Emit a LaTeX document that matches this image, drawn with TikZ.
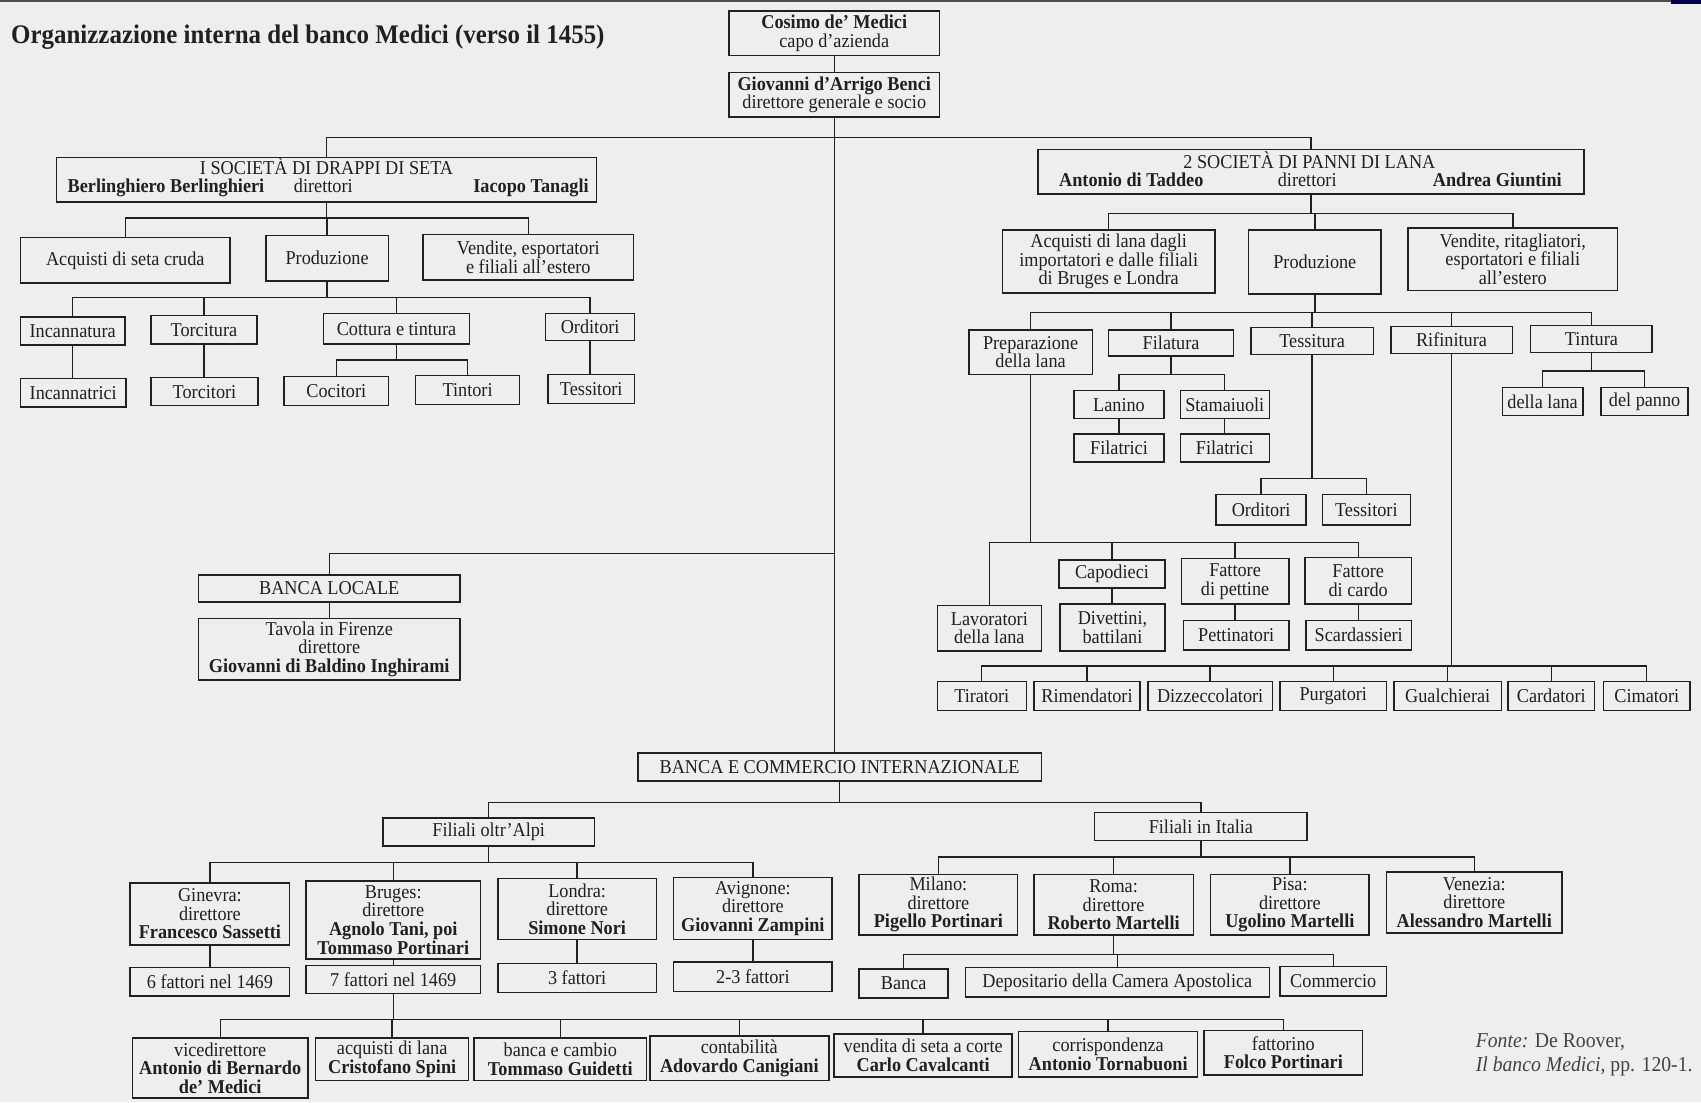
\documentclass[tikz,border=0pt]{standalone}
\usepackage{fontspec}
\setmainfont{Liberation Serif}[FakeStretch=0.93]
\definecolor{bg}{RGB}{238,238,238}
\definecolor{ink}{RGB}{32,32,32}
\tikzset{
  box/.style={draw=ink, line width=0.75pt, inner sep=0pt, align=center, text=ink, font=\fontsize{9.8}{9.3}\selectfont},
  txt/.style={inner sep=0pt, text=ink, font=\fontsize{9.8}{9.3}\selectfont},
  conn/.style={draw=ink, line width=0.7pt}
}
\newcommand\bx[6]{\node[box, minimum width={(#4-#2)*0.5424pt}, minimum height={(#5-#3)*0.5424pt}] (#1) at ({(#2+#4)/2},{(#3+#5)/2}) {#6};}
\newcommand\fanII[4]{%
  \draw[conn] (#1.south) -- (#1.south |- 0,#2);
  \draw[conn] (#3.north) -- (#3.north |- 0,#2) -- (#4.north |- 0,#2) -- (#4.north);}
\newcommand\fan[5]{%
  \fanII{#1}{#2}{#3}{#4}%
  \foreach \c in {#5}{\draw[conn] (\c.north) -- (\c.north |- 0,#2);}}
\newcommand\vl[2]{\draw[conn] (#1.south) -- (#1.south |- #2.north);}
\begin{document}
\begin{tikzpicture}[x=0.5424pt,y=-0.5424pt]
\fill[bg] (0,0) rectangle (1568,1016);
\useasboundingbox (0,0) rectangle (1568,1016);
\draw[ink!80, line width=1.2pt] (0,1) -- (1540,1);
\fill[black!70!blue] (1540,0) rectangle (1568,4);

\node[anchor=base west, inner sep=0pt, text=ink, font=\fontsize{13.4}{15}\selectfont\bfseries] (title) at (10,40) {Organizzazione interna del banco Medici (verso il 1455)};

% top
\bx{cosimo}{672}{10}{866}{51}{\textbf{Cosimo de' Medici}\\capo d'azienda}
\bx{benci}{672}{67}{866}{108}{\textbf{Giovanni d'Arrigo Benci}\\direttore generale e socio}

% silk
\bx{seta}{52}{145}{550}{186}{}
\node[txt, anchor=base] (setaT) at (301,161) {I SOCIETÀ DI DRAPPI DI SETA};
\node[txt, anchor=base west] (setaA) at (62,177) {\textbf{Berlinghiero Berlinghieri}};
\node[txt, anchor=base] (setaD) at (298,177) {direttori};
\node[txt, anchor=base east] (setaB) at (543,177) {\textbf{Iacopo Tanagli}};
\bx{acqseta}{19}{219}{212}{261}{Acquisti di seta cruda}
\bx{prodseta}{245}{217}{358}{259}{Produzione}
\bx{vendseta}{390}{216}{584}{258}{Vendite, esportatori\\e filiali all'estero}
\bx{incannatura}{19}{292}{115}{318}{Incannatura}
\bx{torcitura}{139}{291}{237}{317}{Torcitura}
\bx{cottura}{298}{289}{433}{317}{Cottura e tintura}
\bx{orditoriA}{503}{289}{585}{314}{Orditori}
\bx{incannatrici}{19}{349}{116}{375}{Incannatrici}
\bx{torcitori}{139}{348}{238}{374}{Torcitori}
\bx{cocitori}{262}{347}{358}{374}{Cocitori}
\bx{tintori}{383}{346}{479}{373}{Tintori}
\bx{tessitoriA}{505}{345}{585}{372}{Tessitori}

% wool
\bx{lana}{957}{138}{1460}{179}{}
\node[txt, anchor=base] (lanaT) at (1207,155) {2 SOCIETÀ DI PANNI DI LANA};
\node[txt, anchor=base west] (lanaA) at (976,172) {\textbf{Antonio di Taddeo}};
\node[txt, anchor=base] (lanaD) at (1205,172) {direttori};
\node[txt, anchor=base east] (lanaB) at (1440,172) {\textbf{Andrea Giuntini}};
\bx{acqlana}{924}{212}{1120}{270}{Acquisti di lana dagli\\importatori e dalle filiali\\di Bruges e Londra}
\bx{prodlana}{1151}{212}{1273}{271}{Produzione}
\bx{vendlana}{1298}{210}{1491}{268}{Vendite, ritagliatori,\\esportatori e filiali\\all'estero}
\bx{prep}{893}{304}{1007}{345}{Preparazione\\della lana}
\bx{filatura}{1022}{304}{1137}{328}{Filatura}
\bx{tessitura}{1153}{302}{1266}{327}{Tessitura}
\bx{rifinitura}{1282}{301}{1394}{326}{Rifinitura}
\bx{tintura}{1411}{300}{1523}{325}{Tintura}
\bx{lanino}{990}{360}{1073}{386}{Lanino}
\bx{stamaiuoli}{1088}{360}{1170}{386}{Stamaiuoli}
\bx{filatriciA}{990}{400}{1073}{426}{Filatrici}
\bx{filatriciB}{1088}{400}{1170}{426}{Filatrici}
\bx{dellalana}{1385}{357}{1459}{383}{della lana}
\bx{delpanno}{1476}{357}{1556}{383}{del panno}
\bx{orditoriB}{1121}{456}{1204}{484}{Orditori}
\bx{tessitoriB}{1219}{456}{1300}{484}{Tessitori}
\bx{capodieci}{976}{516}{1074}{542}{Capodieci}
\bx{fpettine}{1089}{515}{1188}{557}{Fattore\\di pettine}
\bx{fcardo}{1203}{514}{1301}{557}{Fattore\\di cardo}
\bx{lavoratori}{864}{558}{960}{600}{Lavoratori\\della lana}
\bx{divettini}{977}{557}{1074}{600}{Divettini,\\battilani}
\bx{pettinatori}{1091}{572}{1188}{599}{Pettinatori}
\bx{scardassieri}{1204}{572}{1301}{599}{Scardassieri}
\bx{tiratori}{864}{628}{946}{655}{Tiratori}
\bx{rimendatori}{953}{628}{1051}{655}{Rimendatori}
\bx{dizzeccolatori}{1058}{628}{1173}{655}{Dizzeccolatori}
\bx{purgatori}{1180}{628}{1278}{655}{Purgatori}
\bx{gualchierai}{1285}{628}{1384}{655}{Gualchierai}
\bx{cardatori}{1390}{628}{1470}{655}{Cardatori}
\bx{cimatori}{1478}{628}{1558}{655}{Cimatori}

% local bank
\bx{bancalocale}{183}{530}{424}{555}{BANCA LOCALE}
\bx{tavola}{183}{570}{424}{627}{Tavola in Firenze\\direttore\\\textbf{Giovanni di Baldino Inghirami}}

% international
\bx{bancaint}{588}{694}{960}{720}{BANCA E COMMERCIO INTERNAZIONALE}
\bx{oltralpi}{353}{754}{548}{780}{Filiali oltr'Alpi}
\bx{italia}{1009}{749}{1205}{775}{Filiali in Italia}
\bx{ginevra}{120}{814}{267}{871}{Ginevra:\\direttore\\\textbf{Francesco Sassetti}}
\bx{bruges}{282}{812}{443}{884}{Bruges:\\direttore\\\textbf{Agnolo Tani, poi}\\\textbf{Tommaso Portinari}}
\bx{londra}{459}{810}{605}{866}{Londra:\\direttore\\\textbf{Simone Nori}}
\bx{avignone}{621}{809}{767}{866}{Avignone:\\direttore\\\textbf{Giovanni Zampini}}
\bx{fA}{120}{892}{267}{918}{6 fattori nel 1469}
\bx{fB}{282}{890}{443}{916}{7 fattori nel 1469}
\bx{fC}{459}{888}{605}{915}{3 fattori}
\bx{fD}{621}{887}{767}{914}{2-3 fattori}
\bx{milano}{792}{806}{938}{862}{Milano:\\direttore\\\textbf{Pigello Portinari}}
\bx{roma}{953}{806}{1100}{862}{Roma:\\direttore\\\textbf{Roberto Martelli}}
\bx{pisa}{1116}{806}{1262}{862}{Pisa:\\direttore\\\textbf{Ugolino Martelli}}
\bx{venezia}{1278}{804}{1440}{860}{Venezia:\\direttore\\\textbf{Alessandro Martelli}}
\bx{bancaB}{792}{893}{874}{920}{Banca}
\bx{depositario}{890}{892}{1170}{919}{Depositario della Camera Apostolica}
\bx{commercio}{1180}{891}{1278}{918}{Commercio}
\bx{vice}{122}{957}{284}{1012}{vicedirettore\\\textbf{Antonio di Bernardo}\\\textbf{de' Medici}}
\bx{spini}{291}{957}{432}{996}{acquisti di lana\\\textbf{Cristofano Spini}}
\bx{guidetti}{437}{957}{596}{996}{banca e cambio\\\textbf{Tommaso Guidetti}}
\bx{canigiani}{599}{955}{764}{996}{contabilità\\\textbf{Adovardo Canigiani}}
\bx{cavalcanti}{769}{953}{933}{993}{vendita di seta a corte\\\textbf{Carlo Cavalcanti}}
\bx{tornabuoni}{939}{951}{1104}{993}{corrispondenza\\\textbf{Antonio Tornabuoni}}
\bx{portinari}{1110}{950}{1256}{991}{fattorino\\\textbf{Folco Portinari}}

\node[anchor=base west, inner sep=0pt, text=ink!85, font=\fontsize{10.6}{11}\selectfont] (fonteA) at (1360,966) {\textit{Fonte:} De Roover,};
\node[anchor=base west, inner sep=0pt, text=ink!85, font=\fontsize{10.6}{11}\selectfont] (fonteB) at (1360,988) {\textit{Il banco Medici}, pp. 120-1.};

% connectors
\vl{cosimo}{benci}
\vl{benci}{bancaint}
\draw[conn] (seta.north) -- (seta.north |- 0,127) -- (lana.north |- 0,127) -- (lana.north);
\fan{seta}{201}{acqseta}{vendseta}{prodseta}
\fan{prodseta}{274}{incannatura}{orditoriA}{torcitura,cottura}
\vl{incannatura}{incannatrici}
\vl{torcitura}{torcitori}
\vl{orditoriA}{tessitoriA}
\fanII{cottura}{332}{cocitori}{tintori}
\fan{lana}{197}{acqlana}{vendlana}{prodlana}
\fan{prodlana}{288}{prep}{tintura}{filatura,tessitura,rifinitura}
\fanII{filatura}{345}{lanino}{stamaiuoli}
\vl{lanino}{filatriciA}
\vl{stamaiuoli}{filatriciB}
\fanII{tintura}{342}{dellalana}{delpanno}
\fanII{tessitura}{441}{orditoriB}{tessitoriB}
\fan{prep}{500}{lavoratori}{fcardo}{capodieci,fpettine}
\vl{capodieci}{divettini}
\vl{fpettine}{pettinatori}
\vl{fcardo}{scardassieri}
\fan{rifinitura}{614}{tiratori}{cimatori}{rimendatori,dizzeccolatori,purgatori,gualchierai,cardatori}
\draw[conn] (benci.south |- 0,510) -- (bancalocale.north |- 0,510) -- (bancalocale.north);
\vl{bancalocale}{tavola}
\fanII{bancaint}{740}{oltralpi}{italia}
\fan{oltralpi}{795}{ginevra}{avignone}{bruges,londra}
\vl{ginevra}{fA}
\vl{bruges}{fB}
\vl{londra}{fC}
\vl{avignone}{fD}
\fan{italia}{790}{milano}{venezia}{roma,pisa}
\fan{roma}{880}{bancaB}{commercio}{depositario}
\fan{fB}{940}{vice}{portinari}{spini,guidetti,canigiani,cavalcanti,tornabuoni}
\end{tikzpicture}
\end{document}
